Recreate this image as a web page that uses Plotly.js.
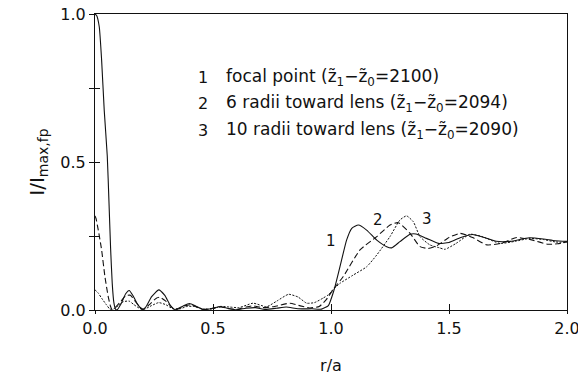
<!DOCTYPE html>
<html>
<head>
<meta charset="utf-8">
<script src="https://cdn.plot.ly/plotly-3.0.1.min.js"></script>
<style>
html,body{margin:0;padding:0;background:#fff;}
#chart{width:578px;height:383px;}
</style>
</head>
<body>
<div id="chart"></div>
<script>
// Curve 1: focal point (solid)
const x1 = [0, 0.007, 0.018, 0.028, 0.039, 0.052, 0.059, 0.066, 0.073, 0.080, 0.087, 0.093,
  0.11, 0.13, 0.145, 0.16, 0.18, 0.2, 0.215, 0.24, 0.27, 0.295, 0.32, 0.34, 0.37, 0.40, 0.43, 0.46,
  0.5, 0.53, 0.56, 0.6, 0.64, 0.68, 0.72, 0.77, 0.81, 0.86, 0.92, 0.96, 0.989, 1.01, 1.017, 1.045,
  1.066, 1.088, 1.116, 1.151, 1.194, 1.236, 1.257, 1.292, 1.335, 1.36, 1.405, 1.455, 1.5, 1.55,
  1.6, 1.65, 1.7, 1.76, 1.84, 1.9, 1.95, 2.0];
const y1 = [1.0, 0.995, 0.957, 0.845, 0.676, 0.52, 0.37, 0.21, 0.09, 0.025, 0.003, 0.0,
  0.02, 0.055, 0.066, 0.05, 0.02, 0.002, 0.01, 0.045, 0.068, 0.05, 0.015, 0.001, 0.012, 0.022, 0.012, 0.001,
  0.006, 0.012, 0.006, 0.001, 0.006, 0.008, 0.002, 0.006, 0.01, 0.004, 0.004, 0.003, 0.015, 0.06, 0.079, 0.169,
  0.236, 0.276, 0.287, 0.27, 0.236, 0.214, 0.21, 0.231, 0.256, 0.257, 0.242, 0.225, 0.228, 0.245,
  0.255, 0.245, 0.232, 0.232, 0.244, 0.24, 0.234, 0.232];

// Curve 2: 6 radii toward lens (dashed)
const x2 = [0, 0.004, 0.014, 0.028, 0.042, 0.056, 0.066, 0.072, 0.085, 0.11, 0.13, 0.15, 0.17, 0.19,
  0.205, 0.23, 0.26, 0.275, 0.30, 0.33, 0.35, 0.38, 0.405, 0.43, 0.46, 0.5, 0.535, 0.57, 0.6, 0.64,
  0.67, 0.71, 0.76, 0.826, 0.87, 0.91, 0.95, 0.98, 1.01, 1.052, 1.123, 1.194, 1.25, 1.285, 1.335,
  1.377, 1.412, 1.45, 1.5, 1.547, 1.6, 1.66, 1.72, 1.787, 1.85, 1.92, 1.96, 2.0];
const y2 = [0.318, 0.31, 0.27, 0.203, 0.113, 0.045, 0.012, 0.002, 0.008, 0.03, 0.048, 0.05, 0.03, 0.01,
  0.002, 0.018, 0.04, 0.043, 0.03, 0.006, 0.003, 0.014, 0.018, 0.01, 0.002, 0.006, 0.01, 0.004, 0.002, 0.01,
  0.014, 0.008, 0.012, 0.023, 0.014, 0.007, 0.012, 0.035, 0.07, 0.113, 0.203, 0.248, 0.287, 0.295, 0.259,
  0.214, 0.208, 0.218, 0.245, 0.259, 0.245, 0.22, 0.225, 0.245, 0.237, 0.222, 0.224, 0.23];

// Curve 3: 10 radii toward lens (dotted)
const x3 = [0, 0.014, 0.028, 0.049, 0.063, 0.08, 0.1, 0.12, 0.145, 0.165, 0.19, 0.21, 0.24, 0.27,
  0.3, 0.33, 0.36, 0.39, 0.42, 0.46, 0.5, 0.53, 0.57, 0.61, 0.67, 0.727, 0.77, 0.82, 0.86, 0.897,
  0.93, 0.966, 0.99, 1.01, 1.038, 1.094, 1.151, 1.194, 1.25, 1.292, 1.32, 1.349, 1.377, 1.419, 1.46,
  1.483, 1.53, 1.589, 1.64, 1.716, 1.78, 1.843, 1.9, 1.95, 2.0];
const y3 = [0.068, 0.057, 0.04, 0.017, 0.003, 0.004, 0.015, 0.028, 0.03, 0.018, 0.005, 0.003, 0.015, 0.025,
  0.018, 0.004, 0.004, 0.012, 0.012, 0.003, 0.004, 0.012, 0.01, 0.008, 0.023, 0.011, 0.03, 0.053, 0.044, 0.023,
  0.025, 0.04, 0.052, 0.07, 0.09, 0.118, 0.146, 0.186, 0.248, 0.304, 0.318, 0.298, 0.248, 0.22, 0.21,
  0.205, 0.225, 0.256, 0.248, 0.225, 0.232, 0.242, 0.238, 0.23, 0.228];

const curveLabels = ['1', '2', '3'];
const legendLines = [
  'focal point (z\u0303<sub>1</sub>\u2212z\u0303<sub>0</sub>=2100)',
  '6 radii toward lens (z\u0303<sub>1</sub>\u2212z\u0303<sub>0</sub>=2094)',
  '10 radii toward lens (z\u0303<sub>1</sub>\u2212z\u0303<sub>0</sub>=2090)'
];
const xTickVals = [0, 0.5, 1.0, 1.5, 2.0];
const xTickText = ['0.0', '0.5', '1.0', '1.5', '2.0'];
const yTickVals = [0, 0.5, 1.0];
const yTickText = ['0.0', '0.5', '1.0'];

const FONT = 'DejaVu Sans, Liberation Sans, sans-serif';
const lineBase = {type: 'scatter', mode: 'lines', hoverinfo: 'skip', showlegend: false};
const traces = [
  Object.assign({}, lineBase, {x: x1, y: y1, line: {color: '#111', width: 1.1, shape: 'spline', smoothing: 0.5}}),
  Object.assign({}, lineBase, {x: x2, y: y2, line: {color: '#111', width: 1.1, dash: '6px,3px', shape: 'spline', smoothing: 0.5}}),
  Object.assign({}, lineBase, {x: x3, y: y3, line: {color: '#111', width: 1.0, dash: '2px,1.5px', shape: 'spline', smoothing: 0.5}}),
  {type: 'scatter', x: [null], y: [null], xaxis: 'x2', yaxis: 'y2', showlegend: false, hoverinfo: 'skip'}
];

const ann = [];
const curveLabelPos = [[1.0, 0.233], [1.2, 0.304], [1.405, 0.306]];
curveLabels.forEach((t, i) => ann.push({x: curveLabelPos[i][0], y: curveLabelPos[i][1], xref: 'x', yref: 'y',
  text: t, showarrow: false, font: {family: FONT, size: 15, color: '#111'}}));
const legY = [0.787, 0.696, 0.608];
legendLines.forEach((t, i) => {
  ann.push({x: 0.43, y: legY[i], xref: 'x', yref: 'y', xanchor: 'left', yanchor: 'middle',
    text: curveLabels[i], showarrow: false, font: {family: FONT, size: 16, color: '#111'}});
  ann.push({x: 0.545, y: legY[i], xref: 'x', yref: 'y', xanchor: 'left', yanchor: 'middle',
    text: t, showarrow: false, font: {family: FONT, size: 17, color: '#111'}});
});

const layout = {
  width: 578, height: 383,
  margin: {l: 95, r: 11, t: 14, b: 73},
  paper_bgcolor: '#fff', plot_bgcolor: '#fff',
  font: {family: FONT, size: 15, color: '#111'},
  xaxis: {range: [0, 2], tickvals: xTickVals, ticktext: xTickText, ticks: 'inside', ticklen: 6, tickcolor: '#111',
    ticklabeloverflow: 'allow', ticklabelstandoff: 4,
    showline: true, mirror: true, linecolor: '#111', linewidth: 1, showgrid: false, zeroline: false,
    tickfont: {family: FONT, size: 16, color: '#111'},
    title: {text: 'r/a', font: {family: FONT, size: 16, color: '#111'}, standoff: 22}},
  yaxis: {range: [0, 1], tickvals: yTickVals, ticktext: yTickText, ticks: 'outside', ticklen: 5, tickcolor: '#111',
    minor: {tickvals: [0.25, 0.75], ticks: 'outside', ticklen: 5, tickcolor: '#111'},
    showline: true, mirror: true, linecolor: '#111', linewidth: 1, showgrid: false, zeroline: false,
    tickfont: {family: FONT, size: 16, color: '#111'},
    title: {text: 'I/I<sub>max,fp</sub>', font: {family: FONT, size: 20, color: '#111'}, standoff: 10}},
  xaxis2: {overlaying: 'x', range: [0, 2], tickvals: xTickVals, ticks: 'outside', ticklen: 3, tickcolor: '#111',
    showticklabels: false, showline: false, showgrid: false, zeroline: false},
  yaxis2: {overlaying: 'y', range: [0, 1], tickvals: [0, 0.25, 0.5, 0.75, 1.0], ticks: 'inside', ticklen: 5, tickcolor: '#111',
    showticklabels: false, showline: false, showgrid: false, zeroline: false},
  annotations: ann
};
Plotly.newPlot('chart', traces, layout, {staticPlot: true, displayModeBar: false});
</script>
</body>
</html>
